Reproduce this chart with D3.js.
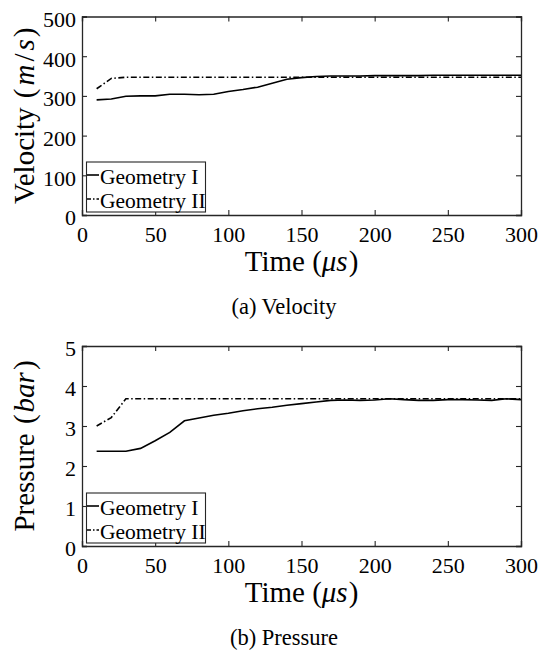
<!DOCTYPE html>
<html><head><meta charset="utf-8">
<script src="https://cdn.jsdelivr.net/npm/d3@7"></script>
<style>body{margin:0;background:#fff}svg{display:block}text{font-family:"Liberation Serif","Times New Roman",serif;fill:#000}</style>
</head><body><svg id="c" width="540" height="650"></svg>
<script>
const time = [10,20,30,40,50,60,70,80,90,100,110,120,130,140,150,160,170,180,190,200,210,220,230,240,250,260,270,280,290,300];
const velocityGeomI = [290,292,299,300,300,304,304,303,304,311,316,322,332,342,346,349,350,350,350,351,351,351,351,352,352,352,352,352,352,352];
const velocityGeomII = [318,344,347,347,347,347,347,347,347,347,347,347,347,347,347,347,347,347,347,347,347,347,347,347,347,347,347,347,347,347];
const pressureGeomI = [2.37,2.37,2.37,2.44,2.63,2.84,3.13,3.2,3.27,3.32,3.38,3.43,3.47,3.52,3.56,3.6,3.64,3.65,3.64,3.65,3.68,3.66,3.64,3.64,3.66,3.66,3.65,3.64,3.68,3.66];
const pressureGeomII = [3.0,3.21,3.68,3.68,3.68,3.68,3.68,3.68,3.68,3.68,3.68,3.68,3.68,3.68,3.68,3.68,3.68,3.68,3.68,3.68,3.68,3.68,3.68,3.68,3.68,3.68,3.68,3.68,3.68,3.68];
const xTicks = [0,50,100,150,200,250,300];
const velocityTicks = [0,100,200,300,400,500];
const pressureTicks = [0,1,2,3,4,5];
const seriesNames = ["Geometry I","Geometry II"];

const svg = d3.select("#c");
const axisColor = "#262626";
const L = 82, R = 521;
const FONT = "Liberation Serif, Times New Roman, serif";

function panel(top, bottom, yDomain, yTicks, s1, s2, ylabelParts, caption) {
  const g = svg.append("g");
  const x = d3.scaleLinear().domain([0,300]).range([L,R]);
  const y = d3.scaleLinear().domain(yDomain).range([bottom,top]);
  const tl = 5;
  const ax = d3.axisBottom(x).tickValues(xTicks).tickSize(-tl).tickPadding(11).tickFormat(d3.format("d"));
  const ay = d3.axisLeft(y).tickValues(yTicks).tickSize(-tl).tickPadding(6).tickFormat(d3.format("d"));
  const axT = d3.axisTop(x).tickValues(xTicks).tickSize(-tl).tickFormat("");
  const ayR = d3.axisRight(y).tickValues(yTicks).tickSize(-tl).tickFormat("");
  const gx = g.append("g").attr("transform",`translate(0,${bottom})`).call(ax);
  const gy = g.append("g").attr("transform",`translate(${L},0)`).call(ay);
  const gt = g.append("g").attr("transform",`translate(0,${top})`).call(axT);
  const gr = g.append("g").attr("transform",`translate(${R},0)`).call(ayR);
  [gx,gy,gt,gr].forEach(a=>{
    a.attr("font-family",FONT);
    a.select(".domain").attr("stroke",axisColor).attr("stroke-width",1.3);
    a.selectAll(".tick line").attr("stroke",axisColor).attr("stroke-width",1.1);
    a.selectAll(".tick text").attr("font-family",FONT).attr("font-size",22).attr("fill","#000");
  });
  gy.selectAll(".tick text").attr("dy","0.45em");
  // lines
  const line = d3.line().x((d,i)=>x(time[i])).y(d=>y(d));
  g.append("path").datum(s1).attr("d",line).attr("fill","none").attr("stroke","#000").attr("stroke-width",1.6);
  g.append("path").datum(s2).attr("d",line).attr("fill","none").attr("stroke","#000").attr("stroke-width",1.6).attr("stroke-dasharray","6,2.5,1.5,2.5");
  // legend
  const lx = 86.5, lw = 119, lh = 50, ly = bottom - 3 - lh;
  const lg = g.append("g");
  lg.append("rect").attr("x",lx).attr("y",ly).attr("width",lw).attr("height",lh).attr("fill","#fff").attr("stroke",axisColor).attr("stroke-width",1.1);
  const rows = [bottom-40, bottom-16];
  seriesNames.forEach((n,i)=>{
    lg.append("line").attr("x1",lx+0.5).attr("x2",lx+12.5).attr("y1",rows[i]).attr("y2",rows[i]).attr("stroke","#000").attr("stroke-width",1.6).attr("stroke-dasharray", i? "4,2,1.5,2":null);
    lg.append("text").attr("x",lx+13.5).attr("y",rows[i]+8.5).attr("font-size",21.5).text(n);
  });
  // y label
  const yl = g.append("text").attr("transform",`translate(34,${(top+bottom)/2}) rotate(-90)`).attr("text-anchor","middle").attr("font-size",29);
  ylabelParts.forEach(p=>yl.append("tspan").attr("font-style",p[1]?"italic":"normal").attr("dx",p[2]||0).text(p[0]));
  // x label
  const xl = g.append("text").attr("x",(L+R)/2).attr("y",bottom+56).attr("text-anchor","middle").attr("font-size",29);
  [["Time ",0],["(",0],["μs",1],[")",0,1]].forEach(p=>xl.append("tspan").attr("font-style",p[1]?"italic":"normal").attr("dx",p[2]||0).text(p[0]));
  // caption
  g.append("text").attr("x",284).attr("y",bottom+99).attr("text-anchor","middle").attr("font-size",22.5).text(caption);
}

panel(16.5, 215, [0,500], velocityTicks, velocityGeomI, velocityGeomII, [["Velocity ",0],["(",0,2],["m",1,3],["/",0,3],["s",1,3],[")",0,2]], "(a) Velocity");
panel(346, 546, [0,5], pressureTicks, pressureGeomI, pressureGeomII, [["Pressure ",0],["(",0,2],["bar",1,2],[")",0,2]], "(b) Pressure");
</script></body></html>
